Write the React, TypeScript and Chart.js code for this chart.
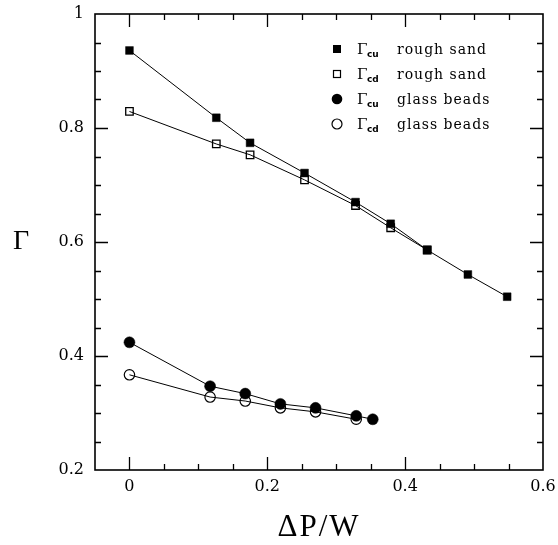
import React, { useEffect, useRef } from "react";
import { Chart, registerables } from "chart.js";

Chart.register(...registerables);

// Γcu rough sand (filled squares)
const cuSandX = [0, 0.126, 0.175, 0.254, 0.328, 0.379, 0.432, 0.491, 0.548];
const cuSandY = [0.936, 0.818, 0.774, 0.721, 0.67, 0.632, 0.586, 0.543, 0.504];
// Γcd rough sand (open squares)
const cdSandX = [0, 0.126, 0.175, 0.254, 0.328, 0.379, 0.432];
const cdSandY = [0.829, 0.772, 0.753, 0.709, 0.664, 0.625, 0.586];
// Γcu glass beads (filled circles)
const cuGlassX = [0, 0.117, 0.168, 0.219, 0.27, 0.329, 0.353];
const cuGlassY = [0.424, 0.347, 0.334, 0.316, 0.309, 0.295, 0.289];
// Γcd glass beads (open circles)
const cdGlassX = [0, 0.117, 0.168, 0.219, 0.27, 0.329];
const cdGlassY = [0.367, 0.328, 0.321, 0.309, 0.302, 0.289];

const xTicks = [0, 0.2, 0.4, 0.6];
const yTicks = [0.2, 0.4, 0.6, 0.8, 1];
const legendSubs = ["cu", "cd", "cu", "cd"];
const legendNames = ["rough sand", "rough sand", "glass beads", "glass beads"];
const xTitle = "ΔP/W";
const yTitle = "Γ";

const pts = (xs: number[], ys: number[]) => xs.map((x, i) => ({ x, y: ys[i] }));

const framePlugin = {
  id: "frame",
  afterDatasetsDraw(chart: any) {
    const { ctx, chartArea: a, scales } = chart;
    const xs = scales.x;
    const ys = scales.y;
    ctx.save();
    ctx.strokeStyle = "#000";
    ctx.lineWidth = 1.6;
    ctx.strokeRect(a.left, a.top, a.right - a.left, a.bottom - a.top);
    ctx.lineWidth = 1.3;
    ctx.beginPath();
    for (let k = -1; k <= 12; k++) {
      const v = k * 0.05;
      if (v < xs.min + 1e-9 || v > xs.max - 1e-9) continue;
      const major = k % 4 === 0;
      const len = major ? 13 : 6;
      const px = Math.round(xs.getPixelForValue(v)) + 0.5;
      ctx.moveTo(px, a.bottom);
      ctx.lineTo(px, a.bottom - len);
      ctx.moveTo(px, a.top);
      ctx.lineTo(px, a.top + len);
    }
    for (let k = 4; k <= 20; k++) {
      const v = k * 0.05;
      if (v < ys.min + 1e-9 || v > ys.max - 1e-9) continue;
      const major = k % 4 === 0;
      const len = major ? 13 : 6;
      const py = Math.round(ys.getPixelForValue(v)) + 0.5;
      ctx.moveTo(a.left, py);
      ctx.lineTo(a.left + len, py);
      ctx.moveTo(a.right, py);
      ctx.lineTo(a.right - len, py);
    }
    ctx.stroke();

    // legend
    const rowY0 = 49;
    const rowGap = 25;
    const mx = 337;
    for (let i = 0; i < 4; i++) {
      const y = rowY0 + i * rowGap;
      ctx.lineWidth = 1.2;
      ctx.fillStyle = "#000";
      ctx.strokeStyle = "#000";
      if (i === 0) {
        ctx.fillRect(mx - 4, y - 4, 8, 8);
      } else if (i === 1) {
        ctx.strokeRect(mx - 3.5, y - 3.5, 7, 7);
      } else if (i === 2) {
        ctx.beginPath();
        ctx.arc(mx, y, 5.3, 0, Math.PI * 2);
        ctx.fill();
      } else {
        ctx.beginPath();
        ctx.arc(mx, y, 5, 0, Math.PI * 2);
        ctx.stroke();
      }
      ctx.textBaseline = "alphabetic";
      ctx.textAlign = "left";
      ctx.font = "15px 'DejaVu Serif'";
      (ctx as any).letterSpacing = "0px";
      ctx.fillText(yTitle, 357, y + 5);
      ctx.font = "bold 9px 'DejaVu Sans'";
      ctx.fillText(legendSubs[i], 367, y + 8);
      ctx.font = "14px 'DejaVu Serif'";
      (ctx as any).letterSpacing = "1px";
      ctx.fillText(legendNames[i], 397, y + 4.5);
    }

    // axis titles
    (ctx as any).letterSpacing = "2px";
    ctx.font = "31px 'Liberation Serif'";
    ctx.textAlign = "center";
    ctx.textBaseline = "middle";
    ctx.fillText(xTitle, (a.left + a.right) / 2, 528);
    (ctx as any).letterSpacing = "0px";
    ctx.font = "28px 'Liberation Serif'";
    ctx.fillText(yTitle, 21, ys.getPixelForValue(0.6));
    ctx.restore();
  },
};

export default function App() {
  const ref = useRef<HTMLCanvasElement | null>(null);
  useEffect(() => {
    if (!ref.current) return;
    const line = {
      borderColor: "#000",
      borderWidth: 1,
      pointBorderColor: "#000",
      showLine: true,
    };
    const chart = new Chart(ref.current, {
      type: "scatter",
      data: {
        datasets: [
          {
            ...line,
            label: "Γcu rough sand",
            data: pts(cuSandX, cuSandY),
            pointStyle: "rect",
            pointRadius: 5.5,
            pointBackgroundColor: "#000",
            pointBorderWidth: 0.5,
          },
          {
            ...line,
            label: "Γcd rough sand",
            data: pts(cdSandX, cdSandY),
            pointStyle: "rect",
            pointRadius: 5.3,
            pointBackgroundColor: "rgba(0,0,0,0)",
            pointBorderWidth: 1.3,
          },
          {
            ...line,
            label: "Γcu glass beads",
            data: pts(cuGlassX, cuGlassY),
            pointStyle: "circle",
            pointRadius: 5.5,
            pointBackgroundColor: "#000",
            pointBorderWidth: 0.5,
          },
          {
            ...line,
            label: "Γcd glass beads",
            data: pts(cdGlassX, cdGlassY),
            pointStyle: "circle",
            pointRadius: 5.2,
            pointBackgroundColor: "rgba(0,0,0,0)",
            pointBorderWidth: 1.2,
          },
        ],
      },
      options: {
        responsive: false,
        animation: false,
        layout: { padding: { top: 14, right: 15, left: 0, bottom: 0 } },
        plugins: { legend: { display: false }, tooltip: { enabled: false } },
        scales: {
          x: {
            type: "linear",
            min: -0.05,
            max: 0.6,
            grid: { display: false, drawTicks: false },
            border: { display: false },
            afterBuildTicks: (s: any) => {
              s.ticks = xTicks.map((v) => ({ value: v }));
            },
            afterFit: (s: any) => {
              s.height = 75;
              s.paddingLeft = 0;
              s.paddingRight = 0;
            },
            ticks: {
              color: "#000",
              padding: 7,
              maxRotation: 0,
              font: { family: "'DejaVu Serif'", size: 16 },
              callback: (v: any) => String(v),
            },
          },
          y: {
            type: "linear",
            min: 0.2,
            max: 1,
            grid: { display: false, drawTicks: false },
            border: { display: false },
            afterBuildTicks: (s: any) => {
              s.ticks = yTicks.map((v) => ({ value: v }));
            },
            afterFit: (s: any) => {
              s.width = 95;
              s.paddingTop = 0;
              s.paddingBottom = 0;
            },
            ticks: {
              color: "#000",
              padding: 11,
              font: { family: "'DejaVu Serif'", size: 16 },
              callback: (v: any) => String(v),
            },
          },
        },
      },
      plugins: [framePlugin],
    });
    return () => chart.destroy();
  }, []);
  return (
    <canvas
      ref={ref}
      width={558}
      height={545}
      style={{ position: "fixed", left: 0, top: 0, display: "block", background: "#fff" }}
    />
  );
}
